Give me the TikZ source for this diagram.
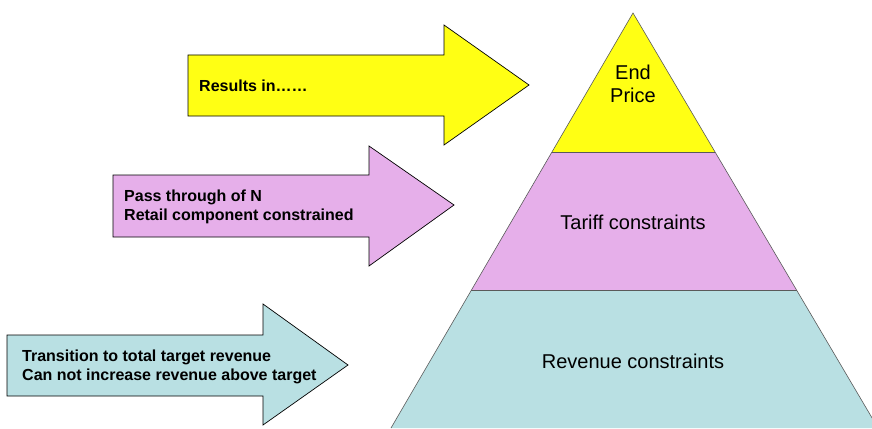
\documentclass[tikz,border=0pt]{standalone}
\usepackage{fontspec}
\usetikzlibrary{calc}
\setmainfont{Liberation Sans}
\definecolor{tierYellow}{RGB}{255,255,20}
\definecolor{tierPink}{RGB}{230,175,234}
\definecolor{tierTeal}{RGB}{185,224,227}
\definecolor{edgeGray}{RGB}{90,90,90}
\tikzset{
  blockarrow/.style={draw=black, line width=0.7pt, line join=miter},
  tier/.style={draw=edgeGray, line width=0.6pt, line join=miter},
  arrowtext/.style={anchor=west, align=left, inner sep=0pt,
    font=\fontsize{16}{18.5}\selectfont\bfseries},
  tiertext/.style={align=center, inner sep=0pt,
    font=\fontsize{20}{23}\selectfont},
}
\begin{document}
\begin{tikzpicture}[x=1pt, y=-1pt]
  \useasboundingbox (0,0) rectangle (872,428);
  \clip (0,0) rectangle (872,428);

  % pyramid outline and the points where the tier borders meet its sides
  \coordinate (apex) at (633,13);
  \coordinate (bl) at (391,428);
  \coordinate (br) at (878,428);
  \coordinate (l1) at ($(apex)!0.33494!(bl)$);
  \coordinate (r1) at ($(apex)!0.33494!(br)$);
  \coordinate (l2) at ($(apex)!0.66747!(bl)$);
  \coordinate (r2) at ($(apex)!0.66747!(br)$);

  % pyramid tiers
  \fill[tierYellow] (apex) -- (r1) -- (l1) -- cycle;
  \fill[tierPink] (l1) -- (r1) -- (r2) -- (l2) -- cycle;
  \fill[tierTeal] (l2) -- (r2) -- (br) -- (bl) -- cycle;
  \draw[tier] (bl) -- (apex) -- (br);
  \draw[tier] (l1) -- (r1);
  \draw[tier] (l2) -- (r2);

  \node[tiertext] (endprice) at (633,84) {End\\Price};
  \node[tiertext] (tariff) at (633,222) {Tariff constraints};
  \node[tiertext] (revenue) at (633,361) {Revenue constraints};

  % block arrows pointing at the pyramid
  \draw[blockarrow, fill=tierYellow]
    (188,55) -- (444,55) -- (444,25) -- (529,85) -- (444,145) -- (444,116) -- (188,116) -- cycle;
  \draw[blockarrow, fill=tierPink]
    (113,175) -- (369,175) -- (369,146) -- (454,205) -- (369,266) -- (369,237) -- (113,237) -- cycle;
  \draw[blockarrow, fill=tierTeal]
    (7,335) -- (263,335) -- (263,304) -- (348,365) -- (263,425) -- (263,396) -- (7,396) -- cycle;

  \node[arrowtext] (results) at (199,86) {Results in……};
  \node[arrowtext] (passthrough) at (124,207) {Pass through of N\\Retail component constrained};
  \node[arrowtext] (transition) at (22,367) {Transition to total target revenue\\Can not increase revenue above target};
\end{tikzpicture}
\end{document}
